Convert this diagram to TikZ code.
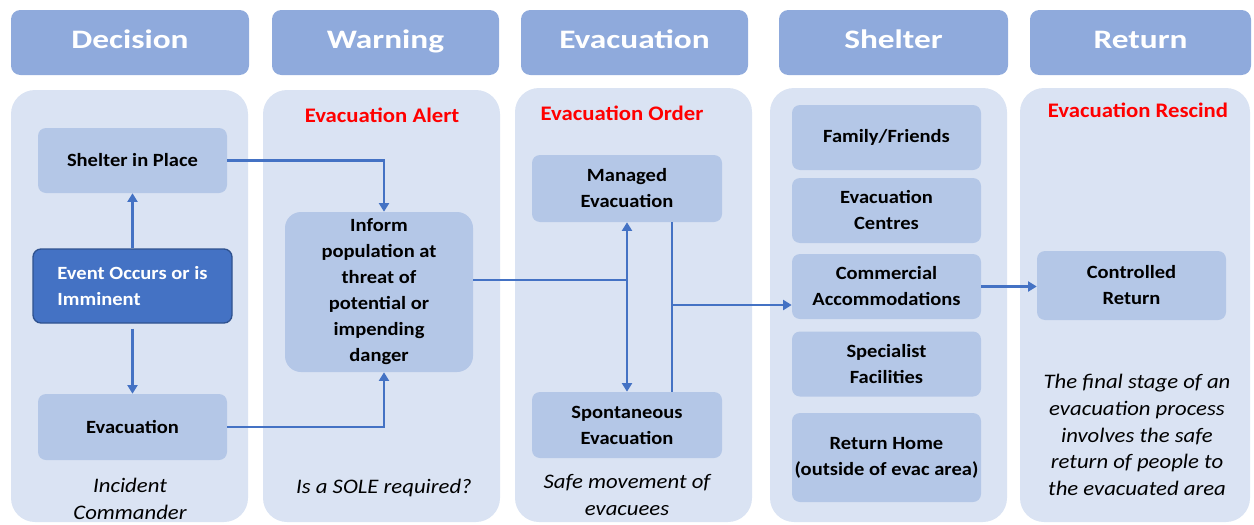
\documentclass[tikz,border=0pt]{standalone}
\usepackage{fontspec}
\setmainfont[FakeStretch=1.1]{Carlito}
\newfontfamily\headfont[FakeStretch=1.25]{Carlito}
\usetikzlibrary{arrows.meta}
\definecolor{headblue}{HTML}{8FAADC}
\definecolor{panelblue}{HTML}{DAE3F3}
\definecolor{boxblue}{HTML}{B4C7E7}
\definecolor{eventblue}{HTML}{4472C4}
\definecolor{eventline}{HTML}{2F528F}
\definecolor{lineblue}{HTML}{4472C4}
\definecolor{alertred}{HTML}{FF0000}
\begin{document}
\begin{tikzpicture}[x=0.75pt, y=-0.75pt, >={Triangle[width=7.5pt,length=6.5pt]},
        header/.style={fill=headblue, rounded corners=7pt, minimum height=48.75pt, text height=14pt, text depth=5pt, text=white, font=\headfont\fontsize{20}{24}\selectfont\bfseries},
        panel/.style={fill=panelblue, rounded corners=18pt},
        box/.style={fill=boxblue, rounded corners=6pt, minimum width=141.75pt, minimum height=48.75pt, align=center, font=\fontsize{14}{19.5}\selectfont\bfseries},
        stage/.style={text=alertred, font=\fontsize{15.5}{18}\selectfont\bfseries},
        note/.style={align=center, font=\fontsize{15.5}{20}\selectfont\itshape},
        flow/.style={draw=lineblue, line width=2.1pt}]
        \useasboundingbox (0,0) rectangle (1254,525);

        % Panels
        \fill[panel] (11,90) rectangle (248,522);
        \fill[panel] (263,90) rectangle (500,522);
        \fill[panel] (515,88) rectangle (752,522);
        \fill[panel] (770,88) rectangle (1007,522);
        \fill[panel] (1020,88) rectangle (1250,522);

        % Headers
        \node[header, minimum width=178.5pt] (decision) at (130,42.5) {Decision};
        \node[header, minimum width=170.25pt] (warning) at (385.5,42.5) {Warning};
        \node[header, minimum width=170.25pt] (evacuation) at (634.5,42.5) {Evacuation};
        \node[header, minimum width=171.75pt] (shelter) at (893.5,42.5) {Shelter};
        \node[header, minimum width=165.75pt] (return) at (1140.5,42.5) {Return};

        % Stage labels
        \node[stage] (alert) at (382,115) {Evacuation Alert};
        \node[stage] (order) at (622,113) {Evacuation Order};
        \node[stage] (rescind) at (1138,110) {Evacuation Rescind};

        % Nodes
        \node[box] (shelterplace) at (132.5,160.5) {Shelter in Place};
        \node[box, fill=eventblue, draw=eventline, line width=1pt, text=white, align=left, minimum width=149.25pt, minimum height=55.5pt] (event) at (132.5,286) {Event Occurs or is\\Imminent};
        \node[box, minimum height=49.5pt] (evacdec) at (132.5,427) {Evacuation};
        \node[box, minimum width=141pt, minimum height=120pt, rounded corners=12pt] (inform) at (379,292) {Inform\\population at\\threat of\\potential or\\impending\\danger};
        \node[box, minimum width=142.5pt, minimum height=50.25pt] (managed) at (627,188.5) {Managed\\Evacuation};
        \node[box, minimum width=142.5pt, minimum height=49.5pt] (spont) at (627,425) {Spontaneous\\Evacuation};
        \node[box] (family) at (886.5,137.5) {Family/Friends};
        \node[box] (centres) at (886.5,210.5) {Evacuation\\Centres};
        \node[box] (commercial) at (886.5,286.5) {Commercial\\Accommodations};
        \node[box] (specialist) at (886.5,364) {Specialist\\Facilities};
        \node[box, inner xsep=0pt, minimum height=66.75pt] (returnhome) at (886.5,457.5) {Return Home\\(outside of evac area)};
        \node[box, minimum height=51.75pt] (controlled) at (1131.5,285.5) {Controlled\\Return};

        % Notes
        \node[note] (commander) at (130,499) {Incident\\Commander};
        \node[note] (sole) at (384,488) {Is a SOLE required?};
        \node[note] (movement) at (627,495) {Safe movement of\\evacuees};
        \node[note] (finalstage) at (1137,435) {The final stage of an\\evacuation process\\involves the safe\\return of people to\\the evacuated area};

        % Edges
        \draw[flow, ->] (event) -- (shelterplace);
        \draw[flow, ->] (event.south) ++(0,5) -- (evacdec);
        \draw[flow, ->] (shelterplace.east) -| ([xshift=3.75pt]inform.north);
        \draw[flow, ->] (evacdec.east) -| ([xshift=3.75pt]inform.south);
        \coordinate (alertout) at ([yshift=9pt]inform.east);
        \draw[flow] (alertout) -- (alertout -| managed.south);
        \draw[flow, <->] (managed) -- (spont);
        \draw[flow] ([xshift=33.75pt]managed.south) -- ([xshift=33.75pt]spont.north);
        \coordinate (ordersplit) at (672,305);
        \draw[flow, ->] (ordersplit) -- (ordersplit -| commercial.west);
        \draw[flow, ->] (commercial.east) -- (commercial.east -| controlled.west);
    \end{tikzpicture}
\end{document}
